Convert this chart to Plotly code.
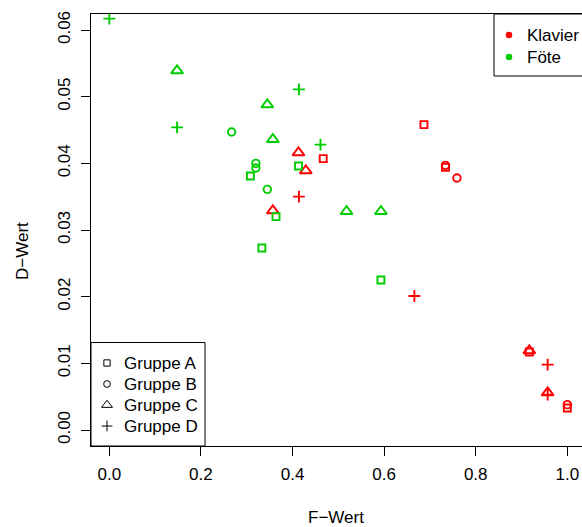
import plotly.graph_objects as go

# --- data -------------------------------------------------------------
# Klavier (red)
klavier_a_f = [0.467, 0.687, 0.734, 0.917, 1.000]
klavier_a_d = [0.0407, 0.0458, 0.0394, 0.0117, 0.0033]
klavier_b_f = [0.734, 0.759, 1.000]
klavier_b_d = [0.0397, 0.0378, 0.0038]
klavier_c_f = [0.413, 0.429, 0.357, 0.917, 0.957]
klavier_c_d = [0.0416, 0.0389, 0.0329, 0.0119, 0.0056]
klavier_d_f = [0.414, 0.666, 0.957, 0.957]
klavier_d_d = [0.0350, 0.0201, 0.0098, 0.0053]

# Föte (green)
foete_a_f = [0.413, 0.308, 0.364, 0.333, 0.593]
foete_a_d = [0.0396, 0.0381, 0.0320, 0.0273, 0.0225]
foete_b_f = [0.267, 0.320, 0.320, 0.345]
foete_b_d = [0.0447, 0.0400, 0.0393, 0.0361]
foete_c_f = [0.148, 0.345, 0.357, 0.518, 0.593]
foete_c_d = [0.0539, 0.0488, 0.0436, 0.0328, 0.0328]
foete_d_f = [0.000, 0.148, 0.414, 0.461]
foete_d_d = [0.0617, 0.0454, 0.0511, 0.0428]

x_ticks = [0.0, 0.2, 0.4, 0.6, 0.8, 1.0]
y_ticks = [0.00, 0.01, 0.02, 0.03, 0.04, 0.05, 0.06]

instrument_names = ["Klavier", "Föte"]
group_names = ["Gruppe A", "Gruppe B", "Gruppe C", "Gruppe D"]

RED = "#FF0000"
GREEN = "#00CD00"
FONT = "Liberation Sans, Arial, Helvetica, sans-serif"
FS = 17

W, H = 582, 527
L, R, T, B = 91, 0, 14, 81

symbols = {
    "A": ("square-open", 7),
    "B": ("circle-open", 7.5),
    "C": ("triangle-up-open", 10.5),
    "D": ("cross-thin-open", 8.5),
}

fig = go.Figure()

series = [
    (klavier_a_f, klavier_a_d, RED, "A"),
    (klavier_b_f, klavier_b_d, RED, "B"),
    (klavier_c_f, klavier_c_d, RED, "C"),
    (klavier_d_f, klavier_d_d, RED, "D"),
    (foete_a_f, foete_a_d, GREEN, "A"),
    (foete_b_f, foete_b_d, GREEN, "B"),
    (foete_c_f, foete_c_d, GREEN, "C"),
    (foete_d_f, foete_d_d, GREEN, "D"),
]
for fx, dy, col, grp in series:
    sym, size = symbols[grp]
    fig.add_trace(go.Scatter(
        x=fx, y=dy, mode="markers", showlegend=False, hoverinfo="skip",
        marker=dict(symbol=sym, size=size, color=col,
                    line=dict(color=col, width=1.9)),
    ))

# --- legends drawn on a pixel-based overlay axis pair --------------------
plot_w = W - L - R
plot_h = H - T - B

# top-right legend: instrument colours
leg1_rows = [35, 57]
fig.add_trace(go.Scatter(
    x=[509, 509], y=leg1_rows, xaxis="x2", yaxis="y2", mode="markers",
    showlegend=False, hoverinfo="skip",
    marker=dict(symbol="circle", size=6.5, color=[RED, GREEN], line=dict(width=0)),
))
# bottom-left legend: group symbols
leg2_rows = [363, 384, 405, 426]
for row, grp in zip(leg2_rows, "ABCD"):
    sym, size = symbols[grp]
    fig.add_trace(go.Scatter(
        x=[107], y=[row], xaxis="x2", yaxis="y2", mode="markers",
        showlegend=False, hoverinfo="skip",
        marker=dict(symbol=sym, size=size * 0.9, color="black",
                    line=dict(color="black", width=1)),
    ))

annotations = []
for row, name in zip(leg1_rows, instrument_names):
    annotations.append(dict(x=525, y=row, xref="x2", yref="y2", text=name,
                            showarrow=False, xanchor="left", yanchor="middle",
                            font=dict(family=FONT, size=FS, color="black")))
for row, name in zip(leg2_rows, group_names):
    annotations.append(dict(x=122, y=row, xref="x2", yref="y2", text=name,
                            showarrow=False, xanchor="left", yanchor="middle",
                            font=dict(family=FONT, size=FS, color="black")))

# axis titles
annotations.append(dict(x=(336 - L) / plot_w, y=(H - B - 517) / plot_h,
                        xref="paper", yref="paper", text="F\u2212Wert",
                        showarrow=False, xanchor="center", yanchor="middle",
                        font=dict(family=FONT, size=FS, color="black")))
annotations.append(dict(x=(22 - L) / plot_w, y=(H - B - 251) / plot_h,
                        xref="paper", yref="paper", text="D\u2212Wert",
                        textangle=-90, showarrow=False, xanchor="center",
                        yanchor="middle",
                        font=dict(family=FONT, size=FS, color="black")))

shapes = [
    # legend boxes
    dict(type="rect", xref="x2", yref="y2", x0=494, x1=600, y0=14, y1=76,
         line=dict(color="black", width=1), fillcolor="rgba(0,0,0,0)"),
    dict(type="rect", xref="x2", yref="y2", x0=91, x1=205, y0=342.5, y1=446,
         line=dict(color="black", width=1), fillcolor="rgba(0,0,0,0)"),
]

axis_font = dict(family=FONT, size=FS, color="black")
fig.update_layout(
    width=W, height=H,
    margin=dict(l=L, r=R, t=T, b=B, pad=0),
    paper_bgcolor="white", plot_bgcolor="white",
    showlegend=False,
    annotations=annotations,
    shapes=shapes,
    xaxis=dict(range=[-0.04, -0.04 + plot_w / 458.0], tickvals=x_ticks,
               ticktext=[f"{v:.1f}" for v in x_ticks],
               showgrid=False, zeroline=False, showline=True, linecolor="black",
               linewidth=1, mirror=True, ticks="outside", ticklen=9,
               tickwidth=1, tickcolor="black", tickfont=axis_font,
               ticklabelstandoff=4),
    yaxis=dict(range=[-0.0024, 0.0624], tickvals=y_ticks,
               ticktext=[f"{v:.2f}" for v in y_ticks],
               showgrid=False, zeroline=False, showline=True, linecolor="black",
               linewidth=1, mirror=False, ticks="outside", ticklen=9,
               tickwidth=1, tickcolor="black", tickfont=axis_font,
               tickangle=-90, ticklabelstandoff=4),
    xaxis2=dict(overlaying="x", range=[L, W - R], visible=False, fixedrange=True),
    yaxis2=dict(overlaying="y", range=[H - B, T], visible=False, fixedrange=True),
)

fig.write_html("out.html")
